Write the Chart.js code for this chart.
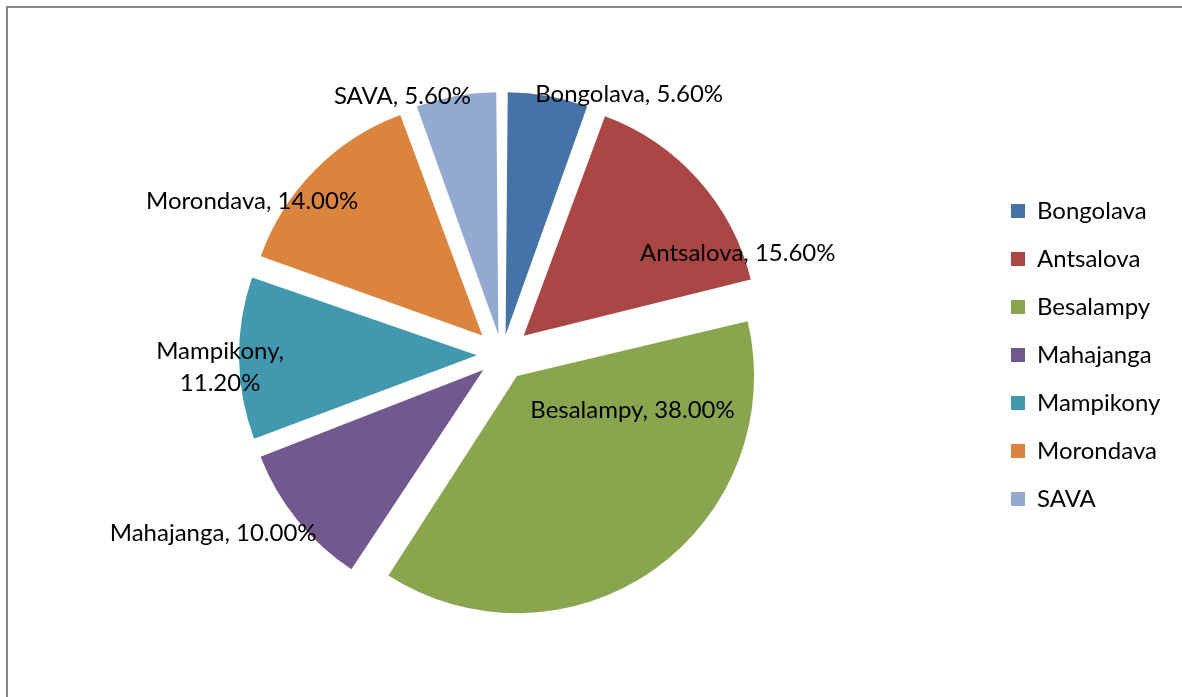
<!DOCTYPE html>
<html>
<head>
<meta charset="utf-8">
<script src="https://cdn.jsdelivr.net/npm/chart.js@4.4.0/dist/chart.umd.min.js"></script>
<style>
  html, body { margin: 0; padding: 0; background: #fff; overflow: hidden; }
  canvas { display: block; }
</style>
</head>
<body>
<canvas id="myChart" width="1182" height="697"></canvas>
<script>
var regions = ["Bongolava", "Antsalova", "Besalampy", "Mahajanga", "Mampikony", "Morondava", "SAVA"];
var shares = [5.6, 15.6, 38.0, 10.0, 11.2, 14.0, 5.6];
var sliceColors = ['#4572A7', '#AA4643', '#89A54E', '#71588F', '#4198AF', '#DB843D', '#93A9CF'];

// where each value label sits: [turn from slice middle in degrees, distance in radii]
var labelSpots = [[15.8, 1.272], [18.2, 1.123], [-32.2, 0.617], [7.4, 1.479], [-1.6, 1.232], [-12.9, 1.283], [-10.9, 1.214]];
var wrapLabels = ["Mampikony"];

var EXPLODE = 34;     // gap each slice is pulled out by
var RADIUS = 229;
var FONT_SIZE = 24;
var FONT = FONT_SIZE + 'px Lato';

var total = shares.reduce(function(a, b){ return a + b; }, 0);

// legend sizing so the pie sits where it should
var mctx = document.createElement('canvas').getContext('2d');
mctx.font = FONT;
var widest = Math.max.apply(null, regions.map(function(r){ return mctx.measureText(r).width; }));
var legendPad = 48 - FONT_SIZE;
var chartRight = 987;
var legendWidth = legendPad + 14 + FONT_SIZE / 2 + widest + 10;
var padRight = Math.max(0, 1182 - chartRight - legendWidth);

var frame = {
    id: 'frame',
    beforeDraw: function(chart){
        var ctx = chart.ctx;
        ctx.save();
        ctx.strokeStyle = '#868686';
        ctx.lineWidth = 2;
        ctx.beginPath();
        ctx.moveTo(7, chart.height);
        ctx.lineTo(7, 7);
        ctx.lineTo(chart.width, 7);
        ctx.stroke();
        ctx.restore();
    }
};

var sliceLabels = {
    id: 'sliceLabels',
    afterDatasetsDraw: function(chart){
        var ctx = chart.ctx;
        var meta = chart.getDatasetMeta(0);
        ctx.save();
        ctx.font = FONT;
        ctx.fillStyle = '#000';
        ctx.textAlign = 'center';
        ctx.textBaseline = 'alphabetic';
        meta.data.forEach(function(arc, i){
            var ang = (arc.startAngle + arc.endAngle) / 2 + labelSpots[i][0] * Math.PI / 180;
            var dist = arc.outerRadius * labelSpots[i][1];
            var x = arc.x + Math.cos(ang) * dist;
            var y = arc.y + Math.sin(ang) * dist;
            var pct = shares[i].toFixed(2) + '%';
            var lines = wrapLabels.indexOf(regions[i]) >= 0 ? [regions[i] + ',', pct] : [regions[i] + ', ' + pct];
            lines.forEach(function(line, k){
                var ly = y + (k - (lines.length - 1) / 2) * 32 + FONT_SIZE * 0.36;
                ctx.fillText(line, x, ly);
            });
        });
        ctx.restore();
    }
};

var ctx = document.getElementById('myChart').getContext('2d');
var chart = new Chart(ctx, {
    type: 'pie',
    data: {
        labels: regions,
        datasets: [{
            data: shares,
            backgroundColor: sliceColors,
            borderWidth: 0,
            // v4 arcs move by offset/4 * (1 + fix), so undo that for an even gap
            offset: function(c){
                var circ = shares[c.dataIndex] / total * 2 * Math.PI;
                var fix = 1 - Math.sin(Math.min(Math.PI, circ));
                return EXPLODE * 4 / (1 + fix);
            }
        }]
    },
    options: {
        responsive: false,
        animation: false,
        events: [],
        radius: RADIUS,
        layout: { padding: { left: 17, right: padRight, top: 13, bottom: 0 } },
        plugins: {
            tooltip: { enabled: false },
            legend: {
                position: 'right',
                labels: {
                    font: { family: 'Lato', size: FONT_SIZE },
                    color: '#000',
                    boxWidth: 14,
                    boxHeight: 14,
                    padding: legendPad
                }
            }
        }
    },
    plugins: [frame, sliceLabels]
});
</script>
</body>
</html>
